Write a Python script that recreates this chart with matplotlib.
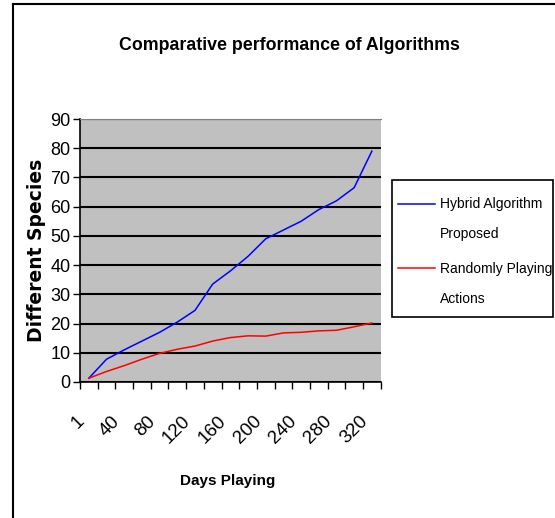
import matplotlib.pyplot as plt
from matplotlib.lines import Line2D
from matplotlib.patches import Rectangle
from matplotlib.transforms import ScaledTranslation
from matplotlib.legend_handler import HandlerLine2D
import numpy as np

# data (Excel style category axis)
days = [1, 20, 40, 60, 80, 100, 120, 140, 160, 180, 200, 220, 240, 260, 280, 300, 320]
hybrid = [1.3, 7.8, 11, 14, 17, 20.5, 24.5, 33.5, 38, 43, 49, 52, 55, 59, 62, 66.5, 79]
randomly = [1.3, 3.6, 5.6, 7.8, 9.8, 11.2, 12.3, 14, 15.2, 15.8, 15.7, 16.8, 17, 17.5, 17.7, 18.9, 20.2]

plt.rcParams['font.family'] = ['Liberation Sans', 'DejaVu Sans']


class FirstLineHandler(HandlerLine2D):
    # put the legend line next to the first text line, like Excel does
    def create_artists(self, legend, orig_handle, xdescent, ydescent,
                       width, height, fontsize, trans):
        arts = super().create_artists(legend, orig_handle, xdescent, ydescent,
                                      width, height, fontsize, trans)
        for a in arts:
            a.set_ydata(np.asarray(a.get_ydata()) + 1.15 * fontsize)
        return arts


fig = plt.figure(figsize=(5.55, 5.18), dpi=100)
ax = fig.add_axes([80 / 555, 1 - 382 / 518, 300.7 / 555, 263 / 518])
ax.set_facecolor('#C0C0C0')

x = np.arange(len(days))
ax.plot(x, hybrid, color='#0000FF', lw=1.1, label='Hybrid Algorithm\nProposed')
ax.plot(x, randomly, color='#FF0000', lw=1.1, label='Randomly Playing\nActions')

ax.set_xlim(-0.5, len(days) - 0.5)
ax.set_ylim(0, 90)
ax.set_yticks(range(0, 91, 10))
ax.yaxis.grid(True, color='black', lw=1.5)
ax.set_axisbelow(True)

# ticks between categories, labels on every other category
ax.set_xticks(np.arange(len(days) + 1) - 0.5)
ax.set_xticklabels([])
ax.set_xticks(x[::2], minor=True)
ax.set_xticklabels([str(d) for d in days[::2]], minor=True, rotation=45,
                   ha='right', va='top', rotation_mode='anchor', fontsize=13.5)
ax.tick_params(axis='x', which='minor', length=0, pad=22)
ax.tick_params(axis='x', which='major', length=5, width=1, direction='out')
ax.tick_params(axis='y', length=5, width=1, direction='out', labelsize=13, pad=2)
for lab in ax.get_xticklabels(minor=True):
    lab.set_transform(lab.get_transform() + ScaledTranslation(-13 / 100, 0, fig.dpi_scale_trans))

for s in ['left', 'bottom']:
    ax.spines[s].set_color('black')
    ax.spines[s].set_linewidth(1.2)
ax.spines['top'].set_color('#808080')
ax.spines['top'].set_linewidth(0.8)
ax.spines['right'].set_visible(False)

fig.text(289 / 555, 1 - 45 / 518, 'Comparative performance of Algorithms',
         ha='center', va='center', fontsize=12.8, fontweight='bold')
fig.text(228 / 555, 1 - 481 / 518, 'Days Playing', ha='center', va='center',
         fontsize=11, fontweight='bold')
fig.text(37 / 555, 1 - 250 / 518, 'Different Species', ha='center', va='center',
         rotation=90, fontsize=13.5, fontweight='bold', family=['DejaVu Sans'])

leg = fig.legend(loc='upper left', bbox_to_anchor=(393 / 555, 1 - 192 / 518),
                 frameon=False, fontsize=10, handlelength=2.7,
                 handletextpad=0.36, labelspacing=1.45, borderpad=0.35,
                 borderaxespad=0, handler_map={Line2D: FirstLineHandler()})
for t in leg.get_texts():
    t.set_linespacing(2.5)

# legend frame as in the reference
fig.add_artist(Rectangle((392 / 555, 1 - 317 / 518), 161 / 555, 137 / 518,
                         transform=fig.transFigure, fill=False,
                         edgecolor='black', lw=1.2))

# outer chart border (left and top only visible)
fig.add_artist(Line2D([13 / 555, 13 / 555], [0, 1 - 4 / 518], color='black', lw=1.5,
                      transform=fig.transFigure))
fig.add_artist(Line2D([13 / 555, 1], [1 - 4 / 518, 1 - 4 / 518], color='black', lw=1.5,
                      transform=fig.transFigure))

fig.savefig('out.png', dpi=100)
